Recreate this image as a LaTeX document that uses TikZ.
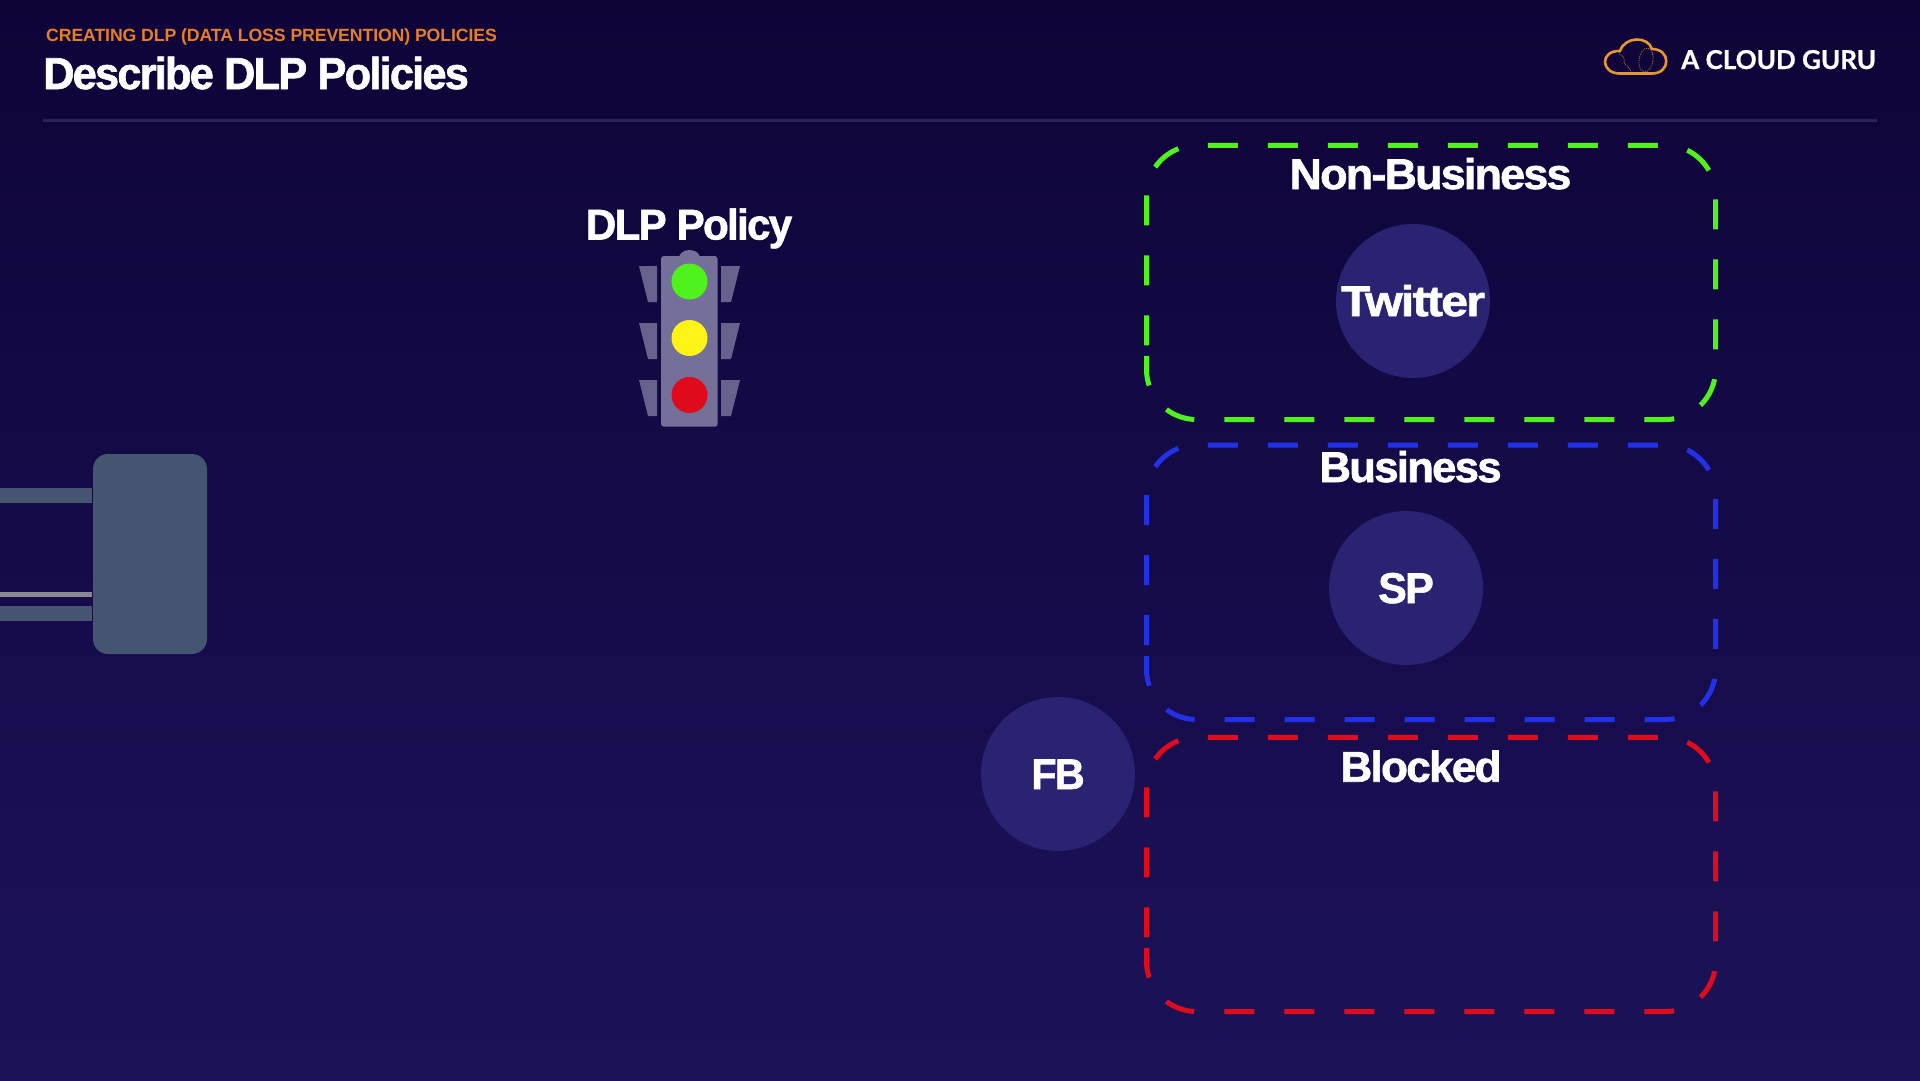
\documentclass[tikz,border=0pt]{standalone}
\usepackage{fontspec}
\setmainfont{Liberation Sans}
\newfontfamily\headfont[UprightFont=* Bold,LetterSpace=-4,FakeBold=1.5]{Liberation Sans}
\newfontfamily\kickerfont[UprightFont=* Bold,LetterSpace=-0.7]{Liberation Sans}
\newfontfamily\brandfont[UprightFont=* Bold,FakeBold=0.8]{Lato}
\definecolor{bgtop}{HTML}{0E0438}
\definecolor{bgbottom}{HTML}{1C1259}
\definecolor{orangetxt}{HTML}{E67E28}
\definecolor{cloudline}{HTML}{E8962E}
\definecolor{rulecol}{HTML}{29235A}
\definecolor{housing}{HTML}{74709A}
\definecolor{visor}{HTML}{66628C}
\definecolor{device}{HTML}{46556F}
\definecolor{wire}{HTML}{8A8A90}
\definecolor{circlecol}{HTML}{2A2371}
\definecolor{zonegreen}{HTML}{4FF21C}
\definecolor{zoneblue}{HTML}{2230E8}
\definecolor{zonered}{HTML}{DF0A1C}
\definecolor{lampyellow}{HTML}{FDF316}
\tikzset{
  labeltxt/.style={anchor=base, inner sep=0pt, text=white, font=\headfont\fontsize{43}{43}\selectfont},
  zone/.style={line width=5pt, dash pattern=on 30pt off 30pt, rounded corners=50pt},
  appcircle/.style={circle, fill=circlecol, minimum size=154pt, inner sep=0pt},
  lamp/.style={circle, minimum size=36pt, inner sep=0pt},
}
\begin{document}
\begin{tikzpicture}[x=1pt,y=-1pt]
\useasboundingbox (0,0) rectangle (1920,1080);
\shade[top color=bgtop, bottom color=bgbottom] (0,0) rectangle (1920,1080);
% header
\node[anchor=base west, inner sep=0pt, text=orangetxt, font=\kickerfont\fontsize{17.7}{18}\selectfont] (kicker) at (46,41.7) {CREATING DLP (DATA LOSS PREVENTION) POLICIES};
\node[anchor=base west, inner sep=0pt, text=white, font=\headfont\fontsize{44.7}{45}\selectfont] (title) at (43,89) {\addfontfeature{FakeStretch=0.97}Describe DLP Policies};
\fill[rulecol] (43,118.5) rectangle (1877,121.5);
\node[anchor=base west, inner sep=0pt, text=white, font=\brandfont\fontsize{26}{26}\selectfont] (brand) at (1681,69) {A CLOUD GURU};
\draw[cloudline, line width=2.6pt] (1620,73.5) .. controls (1600,73.5) and (1600,50) .. (1620,51) .. controls (1625,36) and (1648,36) .. (1652,49) .. controls (1671,49) and (1671,73.5) .. (1652,73.5) -- cycle;
\draw[cloudline!70!bgtop, line width=0.9pt, densely dotted, rotate around={-8:(1646,60)}] (1646,60) ellipse (7 and 12);
\draw[cloudline!70!bgtop, line width=0.9pt, densely dotted] (1619,54) .. controls (1628,58) and (1622,62) .. (1625,64) .. controls (1630,68) and (1630,70) .. (1631,72);
% device on the left
\fill[device] (0,488) rectangle (92,503);
\fill[device] (0,606) rectangle (92,621);
\fill[wire] (0,592) rectangle (92,597);
\fill[device, rounded corners=15pt] (93,454) rectangle (207,654);
% traffic light
\node[labeltxt] (policy) at (689,239.5) {\addfontfeature{FakeStretch=0.98}DLP Policy};
\fill[housing] (679,258) arc (180:360:10.5 and 8) -- cycle;
\fill[housing, rounded corners=3pt] (661,256) rectangle (717.7,426.7);
\fill[visor] (639,266) -- (657,266) -- (657,302) -- (648,302) -- cycle;
\fill[visor] (639,323) -- (657,323) -- (657,359) -- (648,359) -- cycle;
\fill[visor] (639,380) -- (657,380) -- (657,416) -- (648,416) -- cycle;
\fill[visor] (740,266) -- (721,266) -- (721,302) -- (731,302) -- cycle;
\fill[visor] (740,323) -- (721,323) -- (721,359) -- (731,359) -- cycle;
\fill[visor] (740,380) -- (721,380) -- (721,416) -- (731,416) -- cycle;
\node[lamp, fill=zonegreen] (go) at (689.5,281.5) {};
\node[lamp, fill=lampyellow] (wait) at (689.5,338) {};
\node[lamp, fill=zonered] (stop) at (689.5,395) {};
% zones
\draw[zone, draw=zonegreen] (1146.5,345.3) -- (1146.5,145.3) -- (1715.5,145.3) -- (1715.5,419.5) -- (1146.5,419.5) -- (1146.5,345.3);
\draw[zone, draw=zoneblue] (1146.5,645) -- (1146.5,445) -- (1715.5,445) -- (1715.5,719.5) -- (1146.5,719.5) -- (1146.5,645);
\draw[zone, draw=zonered] (1146.5,937.3) -- (1146.5,737.3) -- (1715.5,737.3) -- (1715.5,1011.5) -- (1146.5,1011.5) -- (1146.5,937.3);
\node[labeltxt] (nonbusiness) at (1430.5,189) {\addfontfeature{FakeStretch=1.04}Non-Business};
\node[labeltxt] (business) at (1410.5,482) {\addfontfeature{FakeStretch=1.015}Business};
\node[labeltxt] (blocked) at (1421,781.7) {\addfontfeature{FakeStretch=1.025}Blocked};
% apps
\node[appcircle] (twittercircle) at (1413,301) {};
\node[labeltxt] (twitter) at (1413,316) {\addfontfeature{FakeStretch=1.12}Twitter};
\node[appcircle] (spcircle) at (1406,588) {};
\node[labeltxt] (sp) at (1406,603) {SP};
\node[appcircle] (fbcircle) at (1058,774) {};
\node[labeltxt] (fb) at (1058,789) {\addfontfeature{FakeStretch=0.96}FB};
\end{tikzpicture}
\end{document}
